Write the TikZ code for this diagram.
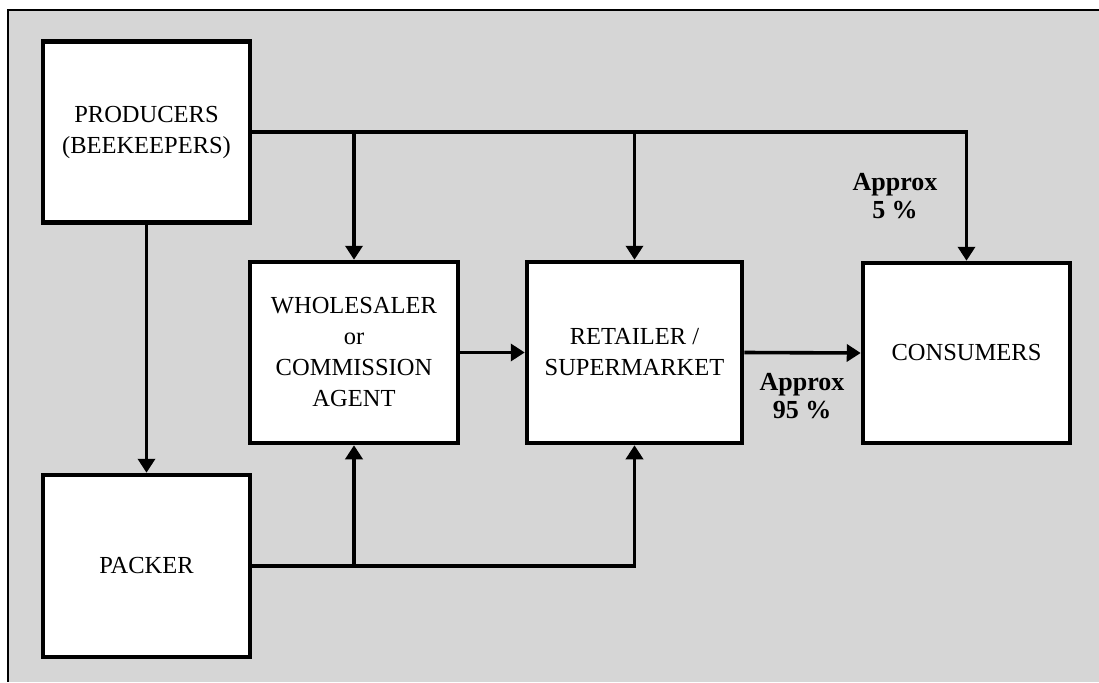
\documentclass[tikz,border=0pt]{standalone}
\usepackage{fontspec}
\setmainfont{Liberation Serif}
\usetikzlibrary{arrows.meta,patterns}
\begin{document}
\begin{tikzpicture}[x=1pt,y=-1pt,
  box/.style={draw=black,line width=4.5pt,fill=white,rectangle,inner sep=0pt,
    align=center,font=\fontsize{24.5}{31}\selectfont},
  lbl/.style={align=center,font=\fontsize{26}{28}\selectfont\bfseries},
  conn/.style={line width=3.6pt},
  arr/.style={conn,-{Triangle[length=14pt,width=17pt]}}]
\useasboundingbox (0,0) rectangle (1099,682);
\fill[white] (0,0) rectangle (1099,682);
\fill[black!16] (8,10) rectangle (1099,682);
\draw[line width=2.5pt] (1099,10) -- (8,10) -- (8,682);
\node[box,minimum width=207pt,minimum height=181pt] (prod) at (146.5,132) {PRODUCERS\\(BEEKEEPERS)};
\node[box,minimum width=207pt,minimum height=182pt] (pack) at (146.5,566) {PACKER};
\node[box,minimum width=208pt,minimum height=181pt] (whole) at (354,352.5) {WHOLESALER\\or\\COMMISSION\\AGENT};
\node[box,minimum width=215pt,minimum height=181pt] (ret) at (634.5,352.5) {RETAILER /\\SUPERMARKET};
\node[box,minimum width=207pt,minimum height=180pt] (cons) at (966.5,353) {CONSUMERS};
\node[lbl] (l5) at (895,196) {Approx\\5 \%};
\node[lbl] (l95) at (802,396) {Approx\\95 \%};
\coordinate (tw) at (whole.north |- prod.east);
\coordinate (tr) at (ret.north |- prod.east);
\coordinate (tc) at (cons.north |- prod.east);
\coordinate (bw) at (whole.south |- pack.east);
\coordinate (br) at (ret.south |- pack.east);
\draw[arr] (prod.east) -- (tc) -- (cons.north);
\draw[arr] (tw) -- (whole.north);
\draw[arr] (tr) -- (ret.north);
\draw[arr] (prod.south) -- (pack.north);
\draw[arr] (whole.east) -- (ret.west);
\draw[arr] (ret.east) -- (cons.west);
\draw[arr] (pack.east) -- (br) -- (ret.south);
\draw[arr] (bw) -- (whole.south);
\end{tikzpicture}
\end{document}
